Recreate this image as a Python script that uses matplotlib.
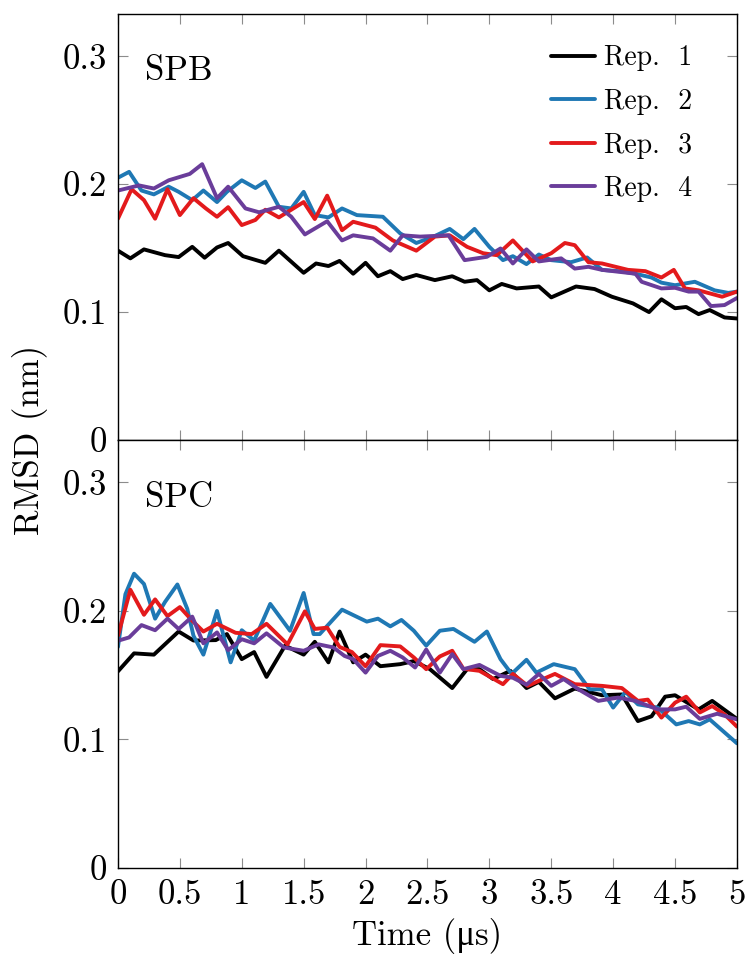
import matplotlib
matplotlib.use("Agg")
import matplotlib.pyplot as plt

plt.rcParams['font.family'] = ['cmr10', 'Liberation Serif', 'DejaVu Serif']
plt.rcParams['mathtext.fontset'] = 'cm'
plt.rcParams['axes.formatter.use_mathtext'] = True

# RMSD traces (time in us, RMSD in nm)
# --- SPB ---
spb_t1 = [0.0, 0.1, 0.21, 0.38, 0.49, 0.6, 0.7, 0.8, 0.89, 1.01, 1.19, 1.3, 1.5, 1.6, 1.7, 1.79,
          1.9, 2.0, 2.1, 2.2, 2.3, 2.41, 2.56, 2.7, 2.8, 2.9, 3.0, 3.1, 3.22, 3.4, 3.5, 3.7,
          3.85, 3.99, 4.16, 4.29, 4.39, 4.5, 4.59, 4.69, 4.78, 4.9, 5.0]
spb_r1 = [0.148, 0.142, 0.149, 0.1445, 0.143, 0.151, 0.1425, 0.1505, 0.154, 0.1437, 0.1385, 0.148,
          0.1307, 0.138, 0.136, 0.140, 0.130, 0.1385, 0.128, 0.132, 0.1258, 0.129, 0.125, 0.128,
          0.1237, 0.125, 0.117, 0.122, 0.1185, 0.120, 0.1115, 0.120, 0.118, 0.112, 0.1068, 0.100,
          0.110, 0.103, 0.104, 0.0984, 0.1016, 0.0958, 0.095]

spb_t2 = [0.0, 0.09, 0.19, 0.29, 0.41, 0.49, 0.6, 0.69, 0.8, 0.88, 1.0, 1.11, 1.19, 1.3, 1.4,
          1.5, 1.59, 1.7, 1.81, 1.93, 2.06, 2.14, 2.28, 2.41, 2.55, 2.68, 2.79, 2.88, 3.0, 3.11,
          3.19, 3.3, 3.4, 3.5, 3.66, 3.79, 3.91, 4.07, 4.18, 4.31, 4.39, 4.5, 4.66, 4.82, 4.93, 5.0]
spb_r2 = [0.205, 0.2096, 0.195, 0.192, 0.198, 0.194, 0.1875, 0.195, 0.186, 0.194, 0.203, 0.197,
          0.202, 0.1823, 0.181, 0.194, 0.1758, 0.174, 0.181, 0.1758, 0.175, 0.1745, 0.1615, 0.154,
          0.159, 0.165, 0.157, 0.165, 0.151, 0.1406, 0.1437, 0.1375, 0.145, 0.1406, 0.139, 0.1427,
          0.133, 0.1318, 0.130, 0.127, 0.123, 0.121, 0.1237, 0.117, 0.115, 0.116]

spb_t3 = [0.0, 0.11, 0.21, 0.3, 0.4, 0.5, 0.61, 0.71, 0.8, 0.89, 1.0, 1.11, 1.19, 1.3, 1.5, 1.59,
          1.69, 1.81, 1.9, 2.08, 2.22, 2.41, 2.56, 2.68, 2.82, 2.95, 3.06, 3.19, 3.35, 3.5, 3.61,
          3.69, 3.8, 3.91, 4.12, 4.26, 4.39, 4.49, 4.58, 4.69, 4.88, 5.0]
spb_r3 = [0.173, 0.196, 0.1875, 0.173, 0.196, 0.1758, 0.189, 0.181, 0.1745, 0.182, 0.168, 0.172,
          0.180, 0.174, 0.186, 0.1727, 0.191, 0.164, 0.1706, 0.166, 0.156, 0.148, 0.159, 0.160,
          0.151, 0.146, 0.1445, 0.156, 0.1396, 0.146, 0.154, 0.1523, 0.139, 0.138, 0.133, 0.132,
          0.127, 0.133, 0.1185, 0.117, 0.112, 0.116]

spb_t4 = [0.0, 0.17, 0.29, 0.41, 0.58, 0.68, 0.8, 0.89, 1.03, 1.14, 1.3, 1.4, 1.51, 1.69, 1.81,
          1.9, 2.06, 2.2, 2.3, 2.44, 2.67, 2.8, 2.98, 3.09, 3.19, 3.3, 3.4, 3.58, 3.69, 3.8, 3.91,
          4.18, 4.23, 4.39, 4.5, 4.61, 4.69, 4.79, 4.9, 5.0]
spb_r4 = [0.195, 0.199, 0.1966, 0.203, 0.208, 0.2156, 0.189, 0.198, 0.181, 0.178, 0.1823, 0.1745,
          0.1607, 0.171, 0.156, 0.160, 0.1576, 0.148, 0.160, 0.159, 0.160, 0.1406, 0.1432, 0.1497,
          0.138, 0.149, 0.1396, 0.142, 0.134, 0.1354, 0.133, 0.130, 0.1237, 0.1185, 0.119, 0.116,
          0.116, 0.1047, 0.1055, 0.111]

# --- SPC ---
spc_t1 = [0.0, 0.13, 0.29, 0.49, 0.61, 0.79, 0.88, 1.0, 1.1, 1.2, 1.35, 1.5, 1.59, 1.7, 1.79,
          1.9, 2.0, 2.12, 2.28, 2.39, 2.52, 2.7, 2.82, 2.92, 3.03, 3.17, 3.3, 3.4, 3.53, 3.69,
          3.91, 4.07, 4.2, 4.31, 4.42, 4.5, 4.69, 4.8, 5.0]
spc_r1 = [0.153, 0.167, 0.166, 0.184, 0.177, 0.1773, 0.182, 0.1625, 0.168, 0.1487, 0.173, 0.166,
          0.176, 0.160, 0.184, 0.160, 0.166, 0.157, 0.1586, 0.161, 0.1547, 0.140, 0.1547, 0.1547,
          0.147, 0.1534, 0.140, 0.1448, 0.132, 0.1396, 0.1344, 0.135, 0.1143, 0.118, 0.1333,
          0.1344, 0.1234, 0.130, 0.116]

spc_t2 = [0.0, 0.06, 0.13, 0.21, 0.3, 0.38, 0.48, 0.56, 0.61, 0.69, 0.8, 0.91, 1.0, 1.1, 1.23,
          1.39, 1.5, 1.58, 1.63, 1.81, 2.01, 2.1, 2.2, 2.29, 2.39, 2.49, 2.6, 2.71, 2.88, 2.98,
          3.09, 3.18, 3.3, 3.38, 3.52, 3.69, 3.81, 3.91, 4.0, 4.1, 4.2, 4.36, 4.51, 4.61, 4.7,
          4.78, 5.0]
spc_r2 = [0.172, 0.213, 0.229, 0.221, 0.194, 0.207, 0.2206, 0.2016, 0.1807, 0.166, 0.200, 0.160,
          0.185, 0.177, 0.2055, 0.1846, 0.214, 0.182, 0.182, 0.201, 0.1917, 0.194, 0.188, 0.193,
          0.1846, 0.173, 0.1846, 0.186, 0.176, 0.184, 0.1625, 0.151, 0.162, 0.152, 0.1586, 0.1547,
          0.139, 0.139, 0.1248, 0.137, 0.1273, 0.1248, 0.1117, 0.1143, 0.1117, 0.1156, 0.097]

spc_t3 = [0.0, 0.1, 0.21, 0.3, 0.4, 0.5, 0.6, 0.69, 0.8, 0.95, 1.08, 1.2, 1.37, 1.51, 1.59, 1.69,
          1.79, 1.89, 2.0, 2.12, 2.28, 2.39, 2.49, 2.6, 2.7, 2.79, 2.92, 3.11, 3.19, 3.31, 3.4,
          3.53, 3.69, 3.91, 4.07, 4.2, 4.28, 4.39, 4.5, 4.59, 4.7, 4.8, 4.9, 5.0]
spc_r3 = [0.1807, 0.2165, 0.197, 0.209, 0.196, 0.203, 0.1924, 0.184, 0.190, 0.183, 0.182, 0.190,
          0.174, 0.1997, 0.186, 0.187, 0.172, 0.168, 0.157, 0.1734, 0.1724, 0.1638, 0.1547,
          0.1646, 0.169, 0.155, 0.1534, 0.143, 0.151, 0.1417, 0.1456, 0.151, 0.143, 0.1417,
          0.140, 0.130, 0.131, 0.117, 0.1286, 0.1333, 0.121, 0.126, 0.1195, 0.110]

spc_t4 = [0.0, 0.09, 0.19, 0.3, 0.4, 0.49, 0.6, 0.69, 0.8, 0.89, 1.0, 1.1, 1.2, 1.34, 1.5, 1.62,
          1.74, 1.83, 1.9, 2.0, 2.1, 2.2, 2.3, 2.4, 2.49, 2.6, 2.7, 2.79, 2.92, 3.09, 3.19, 3.3,
          3.4, 3.5, 3.6, 3.72, 3.88, 4.04, 4.18, 4.36, 4.5, 4.59, 4.7, 4.84, 5.0]
spc_r4 = [0.1768, 0.1794, 0.189, 0.185, 0.194, 0.186, 0.1956, 0.1748, 0.1833, 0.1695, 0.178,
          0.1748, 0.1826, 0.1716, 0.169, 0.174, 0.1716, 0.165, 0.1625, 0.152, 0.165, 0.169,
          0.1638, 0.156, 0.170, 0.152, 0.1664, 0.1547, 0.158, 0.1495, 0.148, 0.1426, 0.151,
          0.1417, 0.147, 0.139, 0.130, 0.1326, 0.130, 0.1234, 0.1234, 0.1255, 0.116, 0.120, 0.1156]

labels = ['Rep.  1', 'Rep.  2', 'Rep.  3', 'Rep.  4']
colors = ['#000000', '#1f78b4', '#e31a1c', '#6a3d9a']
x_ticks = [0, 0.5, 1, 1.5, 2, 2.5, 3, 3.5, 4, 4.5, 5]
x_ticklabels = ['0', '0.5', '1', '1.5', '2', '2.5', '3', '3.5', '4', '4.5', '5']
y_ticks = [0, 0.1, 0.2, 0.3]
y_ticklabels = ['0', '0.1', '0.2', '0.3']

panels = [
    ('SPB', [(spb_t1, spb_r1), (spb_t2, spb_r2), (spb_t3, spb_r3), (spb_t4, spb_r4)]),
    ('SPC', [(spc_t1, spc_r1), (spc_t2, spc_r2), (spc_t3, spc_r3), (spc_t4, spc_r4)]),
]

fig = plt.figure(figsize=(7.49, 9.56), dpi=100)
ax_top = fig.add_axes([0.1575, 0.5397, 0.8264, 0.4457])
ax_bot = fig.add_axes([0.1575, 0.0921, 0.8264, 0.4476], sharex=ax_top)

for ax, (name, series) in zip([ax_top, ax_bot], panels):
    for (t, r), lab, c in zip(series, labels, colors):
        ax.plot(t, r, color=c, lw=2.8, label=lab, solid_joinstyle='round',
                solid_capstyle='round')
    ax.set_xlim(0, 5)
    ax.set_ylim(0, 0.333)
    ax.set_yticks(y_ticks)
    ax.set_yticklabels(y_ticklabels)
    ax.set_xticks(x_ticks)
    ax.tick_params(direction='in', length=7, width=0.8, color='#8c8c8c',
                   top=True, right=True, labelsize=25, pad=8)
    for sp in ax.spines.values():
        sp.set_linewidth(1.0)
    ax.text(0.044, 0.865, name, transform=ax.transAxes, fontsize=25,
            ha='left', va='center')

ax_top.tick_params(labelbottom=False)
ax_bot.set_xticklabels(x_ticklabels)
ax_bot.set_xlabel('Time (\u03bcs)', fontsize=25, labelpad=5)

fig.text(0.04, 0.5397, 'RMSD (nm)', rotation=90, fontsize=25,
         ha='center', va='center')

ax_top.legend(loc='upper right', bbox_to_anchor=(0.945, 0.953), borderaxespad=0,
              frameon=False, fontsize=20, handlelength=1.6,
              handletextpad=0.3, labelspacing=0.62)

fig.savefig('out.png', dpi=100)
